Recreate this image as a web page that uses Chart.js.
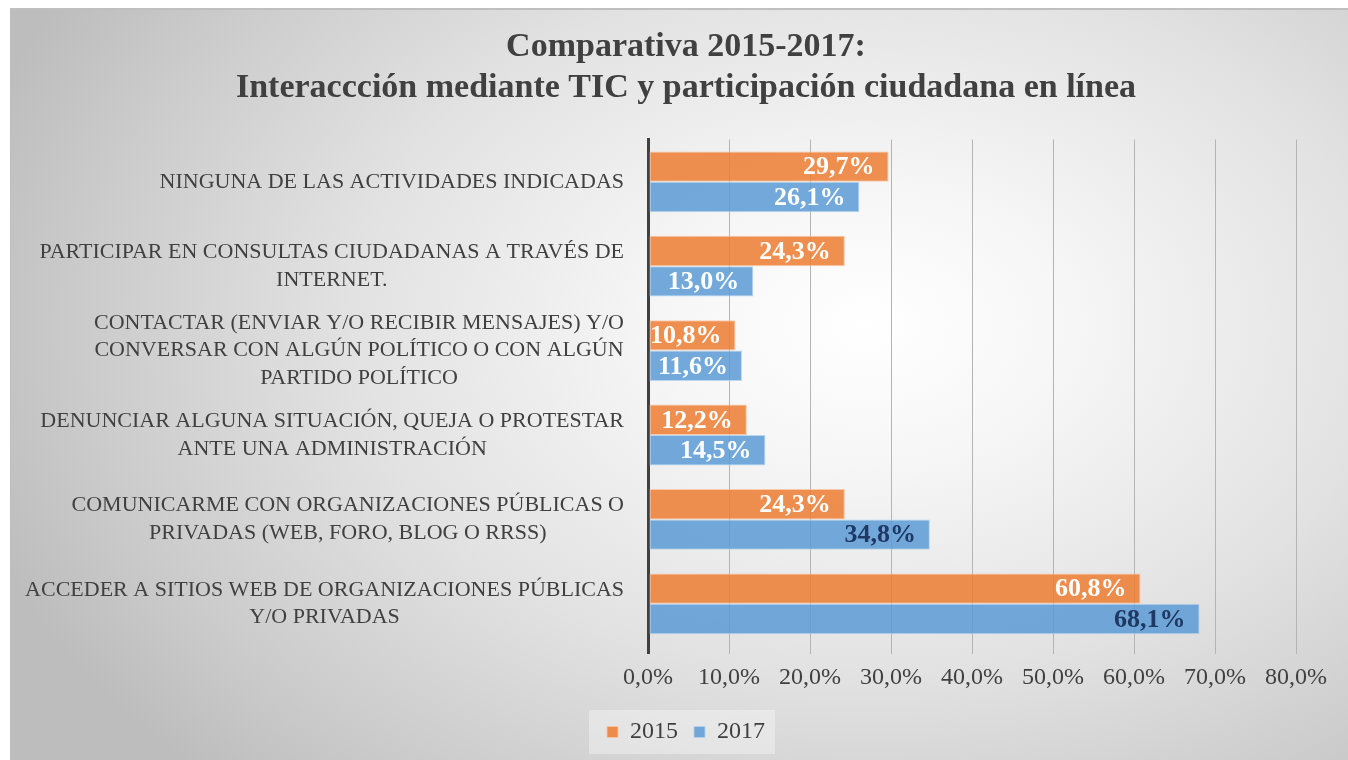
<!DOCTYPE html>
<html>
<head>
<meta charset="utf-8">
<script src="https://cdn.jsdelivr.net/npm/chart.js@4/dist/chart.umd.min.js"></script>
<style>
  body { margin: 0; background: #fff; }
  #wrap { position: relative; width: 1348px; height: 760px; overflow: hidden; }
  #bg {
    position: absolute; left: 10px; top: 8px; width: 1338px; height: 752px;
    border-left: 1px solid #bdbdbd; border-top: 2px solid #bfbfbf;
    box-sizing: border-box;
    background: radial-gradient(ellipse 70% 85% at 64% 42%, #ffffff 0%, #f6f6f6 22%, #e2e2e2 55%, #cacaca 85%, #bdbdbd 100%);
  }
  #myChart { position: absolute; left: 0; top: 0; }
</style>
</head>
<body>
<div id="wrap">
  <div id="bg"></div>
  <canvas id="myChart" width="1348" height="760"></canvas>
</div>
<script>
const categories = [
    ["NINGUNA DE LAS ACTIVIDADES INDICADAS"],
    ["PARTICIPAR EN CONSULTAS CIUDADANAS A TRAVÉS DE", "INTERNET."],
    ["CONTACTAR (ENVIAR Y/O RECIBIR MENSAJES) Y/O", "CONVERSAR CON ALGÚN POLÍTICO O CON ALGÚN", "PARTIDO POLÍTICO"],
    ["DENUNCIAR ALGUNA SITUACIÓN, QUEJA O PROTESTAR", "ANTE UNA ADMINISTRACIÓN"],
    ["COMUNICARME CON ORGANIZACIONES PÚBLICAS O", "PRIVADAS (WEB, FORO, BLOG O RRSS)"],
    ["ACCEDER A SITIOS WEB DE ORGANIZACIONES PÚBLICAS", "Y/O PRIVADAS"]
];
const values2015 = [29.7, 24.3, 10.8, 12.2, 24.3, 60.8];
const values2017 = [26.1, 13.0, 11.6, 14.5, 34.8, 68.1];
const seriesNames = ["2015", "2017"];
const tickValues = [0, 10, 20, 30, 40, 50, 60, 70, 80];

const pct = v => v.toFixed(1).replace('.', ',') + '%';
const serif = "'Liberation Serif', 'DejaVu Serif', serif";

// etiquetas de valor dentro del final de cada barra
const valueLabels = {
    id: 'valueLabels',
    afterDatasetsDraw(chart) {
        const ctx = chart.ctx;
        ctx.save();
        ctx.font = "bold 26px " + serif;
        ctx.textAlign = 'right';
        ctx.textBaseline = 'middle';
        chart.data.datasets.forEach((ds, i) => {
            chart.getDatasetMeta(i).data.forEach((bar, j) => {
                ctx.fillStyle = ds.labelColors[j];
                ctx.fillText(pct(ds.data[j]), bar.x - 14, bar.y + 1);
            });
        });
        ctx.restore();
    }
};

// etiquetas de categoría: bloque alineado a la derecha, líneas centradas
const categoryLabels = {
    id: 'categoryLabels',
    afterDraw(chart) {
        const ctx = chart.ctx;
        const yScale = chart.scales.y;
        const right = 624, lh = 27.5;
        ctx.save();
        ctx.font = "22px " + serif;
        ctx.fillStyle = '#404040';
        ctx.textAlign = 'center';
        ctx.textBaseline = 'middle';
        chart.data.labels.forEach((lines, i) => {
            const cy = yScale.getPixelForTick(i);
            const w = Math.max(...lines.map(l => ctx.measureText(l).width));
            const cx = right - w / 2;
            lines.forEach((l, k) => {
                ctx.fillText(l, cx, cy + (k - (lines.length - 1) / 2) * lh);
            });
        });
        ctx.restore();
    }
};

// fondo claro detrás de la leyenda
const legendBox = {
    id: 'legendBox',
    beforeDraw(chart) {
        const hb = chart.legend.legendHitBoxes;
        if (!hb || !hb.length) return;
        const l = Math.min(...hb.map(b => b.left)) - 18;
        const r = Math.max(...hb.map(b => b.left + b.width)) + 10;
        const cy = hb[0].top + hb[0].height / 2;
        const ctx = chart.ctx;
        ctx.save();
        ctx.fillStyle = 'rgba(255,255,255,0.35)';
        ctx.fillRect(l, cy - 22, r - l, 44);
        ctx.restore();
    }
};

const conf = {
    type: 'bar',
    data: {
        labels: categories,
        datasets: [{
            label: seriesNames[0],
            data: values2015,
            backgroundColor: 'rgba(237,125,49,0.85)',
            borderColor: 'rgba(248,196,160,0.9)',
            borderWidth: 1,
            borderSkipped: false,
            labelColors: ['#fff', '#fff', '#fff', '#fff', '#fff', '#fff']
        }, {
            label: seriesNames[1],
            data: values2017,
            backgroundColor: 'rgba(91,155,213,0.85)',
            borderColor: 'rgba(180,210,238,0.9)',
            borderWidth: 1,
            borderSkipped: false,
            labelColors: ['#fff', '#fff', '#fff', '#fff', '#1f3864', '#1f3864']
        }]
    },
    options: {
        indexAxis: 'y',
        responsive: false,
        animation: false,
        categoryPercentage: 0.72,
        barPercentage: 1.0,
        layout: { padding: { left: 24, right: 0, top: 0, bottom: 6 } },
        scales: {
            x: {
                min: 0, max: 80,
                afterBuildTicks: s => { s.ticks = tickValues.map(v => ({ value: v })); },
                afterFit: s => { s.height = 58; },
                ticks: {
                    callback: v => pct(v),
                    color: '#404040',
                    font: { family: serif, size: 24 },
                    padding: 9,
                    maxRotation: 0
                },
                grid: {
                    color: c => c.index === 0 ? '#404040' : '#b4b4b4',
                    lineWidth: c => c.index === 0 ? 3 : 1,
                    tickLength: 8
                },
                border: { display: false }
            },
            y: {
                ticks: { display: false },
                grid: { display: false },
                border: { color: '#404040', width: 3 },
                afterFit: s => { s.width = 624; }
            },
            // margen derecho vacío
            gap: {
                type: 'linear',
                position: 'right',
                ticks: { display: false },
                grid: { display: false },
                border: { display: false },
                afterFit: s => { s.width = 52; }
            }
        },
        plugins: {
            title: {
                display: true,
                text: ["Comparativa 2015-2017:", "Interaccción mediante TIC y participación ciudadana en línea"],
                color: '#404040',
                font: { family: serif, size: 34, weight: 'bold', lineHeight: 1.2 },
                padding: { top: 27, bottom: 31 }
            },
            legend: {
                position: 'bottom',
                labels: {
                    color: '#404040',
                    font: { family: serif, size: 24 },
                    boxWidth: 11,
                    boxHeight: 11,
                    padding: 16
                }
            },
            tooltip: { enabled: false }
        }
    },
    plugins: [valueLabels, categoryLabels, legendBox]
};

const ctx = document.getElementById('myChart');
const myChart = new Chart(ctx, conf);
</script>
</body>
</html>
